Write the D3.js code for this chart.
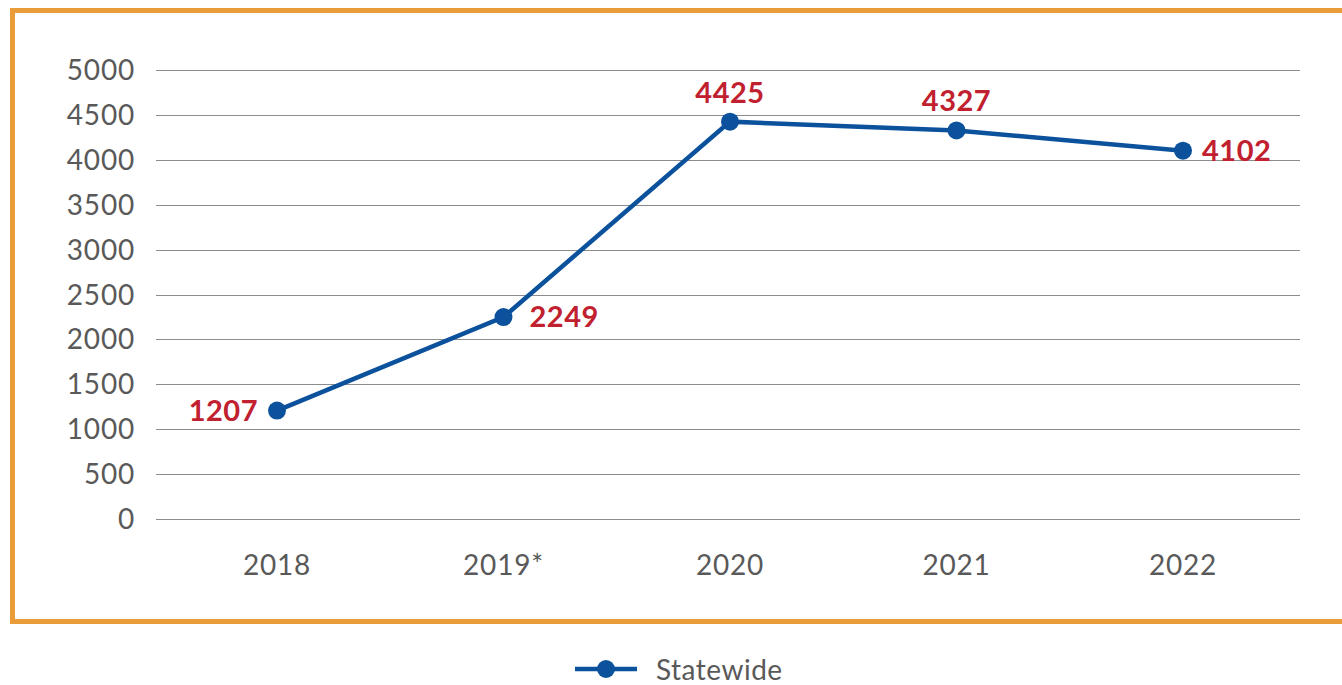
<!DOCTYPE html>
<html>
<head>
<meta charset="utf-8">
<script src="https://cdn.jsdelivr.net/npm/d3@7"></script>
<style>
  body { margin: 0; background: #fff; }
  svg { display: block; font-family: Lato, "Open Sans", sans-serif; }
</style>
</head>
<body>
<svg width="1342" height="685"></svg>
<script>
const years = ["2018", "2019*", "2020", "2021", "2022"];
const statewide = [1207, 2249, 4425, 4327, 4102];
const labelPos = ["left", "right", "top", "top", "right"];
const yTicks = [0, 500, 1000, 1500, 2000, 2500, 3000, 3500, 4000, 4500, 5000];

const svg = d3.select('svg');

// orange frame
svg.append('rect')
  .attr('x', 12.5).attr('y', 10.5)
  .attr('width', 1345).attr('height', 611)
  .attr('fill', 'none')
  .attr('stroke', '#E99C37')
  .attr('stroke-width', 5);

const x = d3.scalePoint().domain(years).range([277, 1183]);
const y = d3.scaleLinear().domain([0, 5000]).range([519, 70]);

// grid
svg.append('g').selectAll('line')
  .data(yTicks)
  .enter().append('line')
    .attr('x1', 156).attr('x2', 1300)
    .attr('y1', d => Math.round(y(d)) + 0.5)
    .attr('y2', d => Math.round(y(d)) + 0.5)
    .attr('stroke', '#8c8c8c')
    .attr('stroke-width', 1);

svg.append('g').selectAll('text')
  .data(yTicks)
  .enter().append('text')
    .attr('x', 135)
    .attr('y', d => y(d) + 10)
    .attr('text-anchor', 'end')
    .style('font-size', '28px')
    .style('letter-spacing', '0.8px')
    .style('fill', '#595959')
    .text(d => d);

svg.append('g').selectAll('text')
  .data(years)
  .enter().append('text')
    .attr('x', d => x(d))
    .attr('y', 575)
    .attr('text-anchor', 'middle')
    .style('font-size', '28px')
    .style('letter-spacing', '0.8px')
    .style('fill', '#595959')
    .text(d => d);

const pts = years.map((d, i) => ({year: d, v: statewide[i], pos: labelPos[i]}));

const line = d3.line().x(d => x(d.year)).y(d => y(d.v));
svg.append('path')
  .datum(pts)
  .attr('d', line)
  .attr('fill', 'none')
  .attr('stroke', '#0B519C')
  .attr('stroke-width', 4.5);

svg.append('g').selectAll('circle')
  .data(pts)
  .enter().append('circle')
    .attr('cx', d => x(d.year))
    .attr('cy', d => y(d.v))
    .attr('r', 9)
    .attr('fill', '#0B519C');

svg.append('g').selectAll('text')
  .data(pts)
  .enter().append('text')
    .attr('x', d => d.pos == 'left' ? x(d.year) - 19 : d.pos == 'right' ? x(d.year) + (d.year == '2019*' ? 26 : 19) : x(d.year))
    .attr('y', d => d.pos == 'top' ? y(d.v) - 19 : y(d.v) + 10)
    .attr('text-anchor', d => d.pos == 'left' ? 'end' : d.pos == 'right' ? 'start' : 'middle')
    .style('font-size', '29px')
    .style('font-weight', 'bold')
    .style('letter-spacing', '0.5px')
    .style('fill', '#C1202F')
    .text(d => d.v);

// legend
const lg = svg.append('g').attr('transform', 'translate(575,669)');
lg.append('line').attr('x1', 0).attr('x2', 62).attr('y1', 0).attr('y2', 0)
  .attr('stroke', '#0B519C').attr('stroke-width', 4.5);
lg.append('circle').attr('cx', 31).attr('cy', 0).attr('r', 9).attr('fill', '#0B519C');
lg.append('text').attr('x', 81).attr('y', 11)
  .style('font-size', '28px').style('letter-spacing', '0.5px').style('fill', '#595959')
  .text('Statewide');
</script>
</body>
</html>
